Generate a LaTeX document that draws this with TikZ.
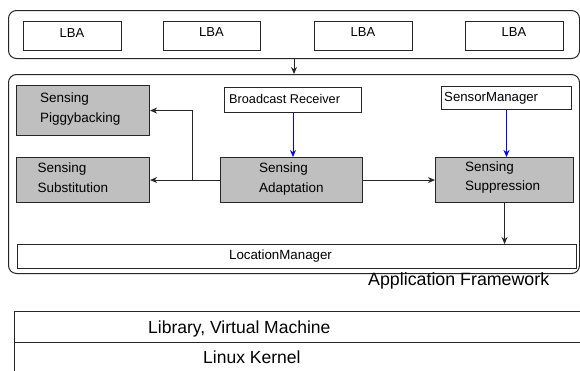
\documentclass[tikz,border=0pt]{standalone}
\usepackage{fontspec}
\setmainfont{Liberation Sans}
\usetikzlibrary{arrows.meta}
\begin{document}
\begin{tikzpicture}[x=1pt,y=-1pt,
  >={Stealth[length=7pt,width=6pt]},
  rbox/.style={draw=black!85, line width=1pt, rounded corners=8pt, anchor=north west, inner sep=0pt},
  wbox/.style={draw=black!85, line width=1pt, fill=white, anchor=north west, inner sep=0pt},
  gbox/.style={draw=black!85, line width=1.1pt, fill=black!25, anchor=north west, inner sep=0pt},
  txt/.style={inner sep=0pt, anchor=base west, font=\fontsize{13.5}{15}\selectfont},
  ctxt/.style={inner sep=0pt, anchor=base, font=\fontsize{13}{15}\selectfont},
  btxt/.style={inner sep=0pt, anchor=base west, font=\fontsize{17.5}{20}\selectfont},
  link/.style={draw=black!85, line width=1pt, ->},
  blink/.style={draw=blue, line width=1pt, ->}]

\useasboundingbox (0,0) rectangle (580,370);
\clip (0,0) rectangle (580,370);
\fill[white] (0,0) rectangle (580,370);

% top bar with the four LBA boxes
\node[rbox, minimum width=571pt, minimum height=48pt] (bar) at (8,10) {};
\node[wbox, minimum width=98pt, minimum height=29pt] (lba1) at (23,21) {};
\node[wbox, minimum width=97pt, minimum height=29pt] (lba2) at (163,21) {};
\node[wbox, minimum width=98pt, minimum height=29pt] (lba3) at (314,21) {};
\node[wbox, minimum width=98pt, minimum height=29pt] (lba4) at (465,21) {};
\node[ctxt] (t1) at (72,37) {LBA};
\node[ctxt] (t2) at (211.5,36) {LBA};
\node[ctxt] (t3) at (363,36) {LBA};
\node[ctxt] (t4) at (514,36) {LBA};

% application framework frame
\node[rbox, minimum width=571pt, minimum height=199pt] (app) at (8,74) {};
\coordinate (ax) at (294,0);
\draw[link] (bar.south -| ax) -- (app.north -| ax);

% sensing blocks
\node[gbox, minimum width=133pt, minimum height=50pt] (pig) at (16,85) {};
\node[txt] (pig1) at (40,102.5) {Sensing};
\node[txt] (pig2) at (40,122) {Piggybacking};

\node[gbox, minimum width=133pt, minimum height=45pt] (sub) at (16,157) {};
\node[txt] (sub1) at (37.5,172.5) {Sensing};
\node[txt] (sub2) at (37.5,192) {Substitution};

\node[gbox, minimum width=142pt, minimum height=45pt] (ada) at (220,157) {};
\node[txt] (ada1) at (259,172.5) {Sensing};
\node[txt] (ada2) at (259,192) {Adaptation};

\node[gbox, minimum width=138pt, minimum height=45pt] (sup) at (435,157) {};
\node[txt] (sup1) at (465,171) {Sensing};
\node[txt] (sup2) at (465,190) {Suppression};

% system services
\node[wbox, minimum width=137pt, minimum height=25pt] (br) at (224,87) {};
\node[txt, font=\fontsize{12.7}{15}\selectfont] (brt) at (229,103) {Broadcast Receiver};
\node[wbox, minimum width=130pt, minimum height=23pt] (sm) at (441,86) {};
\node[txt, font=\fontsize{13.2}{15}\selectfont] (smt) at (444,101) {SensorManager};
\node[wbox, minimum width=559pt, minimum height=24pt] (loc) at (17,244) {};
\node[ctxt, font=\fontsize{13.3}{15}\selectfont] (loct) at (280.5,259) {LocationManager};
\node[inner sep=0pt, anchor=base west, font=\fontsize{17.8}{20}\selectfont] (aft) at (368,285) {Application Framework};

% connectors
\draw[blink] (br.south) -- (br.south |- ada.north);
\draw[blink] (sm.south) -- (sm.south |- sup.north);
\draw[link] (ada.east) -- (sup.west);
\draw[link] (ada.west) -- (sub.east);
\coordinate (j) at (192,0);
\draw[link] (j |- ada.west) |- (pig.east);
\draw[link] (sup.south) -- (sup.south |- loc.north);

% lower layers
\node[wbox, minimum width=580pt, minimum height=31pt] (lib) at (14,311) {};
\node[wbox, minimum width=580pt, minimum height=40pt] (lin) at (14,342) {};
\node[btxt] (libt) at (148,333) {Library, Virtual Machine};
\node[btxt] (lint) at (203,363) {Linux Kernel};
\end{tikzpicture}
\end{document}
